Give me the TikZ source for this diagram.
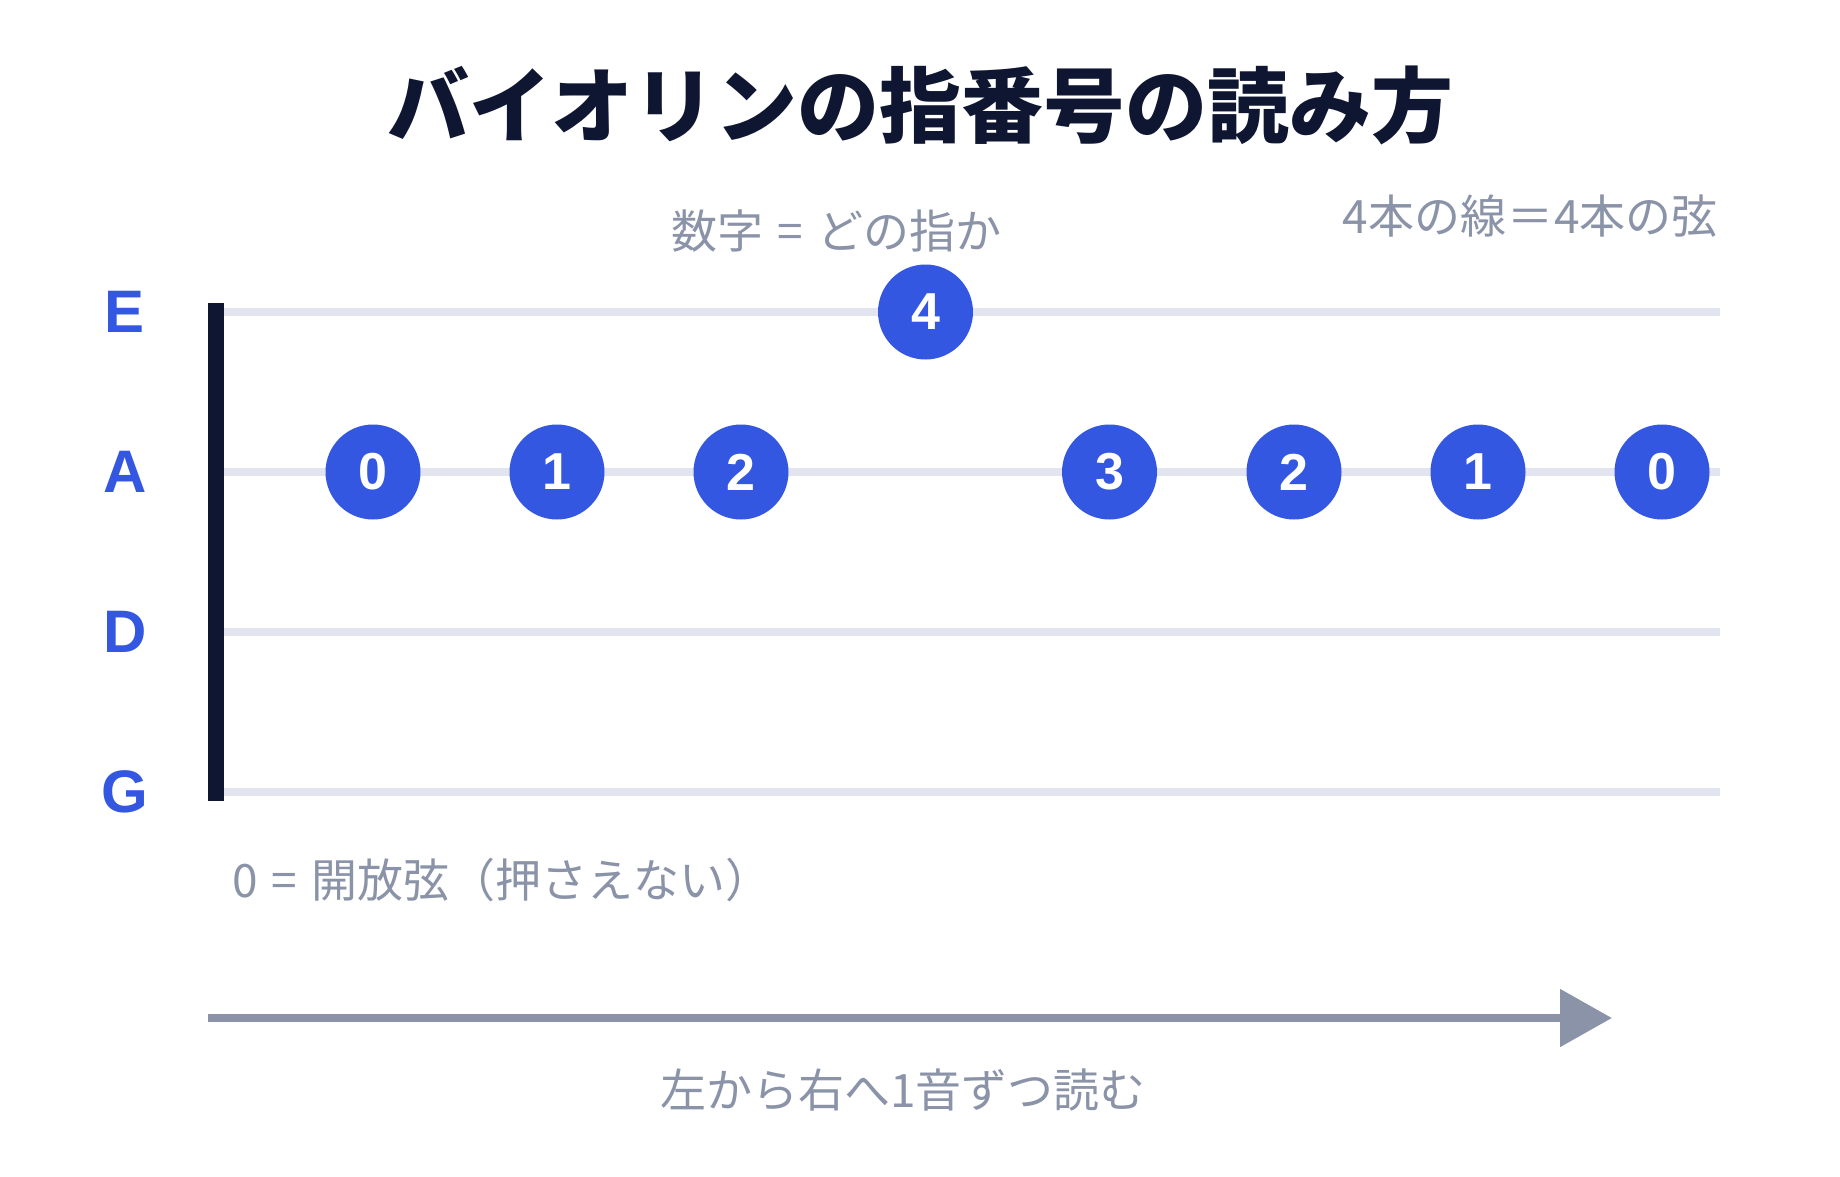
\documentclass[tikz,border=0pt]{standalone}
\usepackage{fontspec}
\setmainfont{Liberation Sans}
\newfontfamily\jp{Noto Sans CJK JP}
\usetikzlibrary{arrows.meta}
\definecolor{navy}{HTML}{0F1631}
\definecolor{fblue}{HTML}{3357E0}
\definecolor{txtgray}{HTML}{8A93A8}
\definecolor{strgray}{HTML}{E2E5EF}
\tikzset{
  titletext/.style={font=\jp\bfseries\fontsize{82}{82}\selectfont, text=navy, inner sep=0pt},
  note/.style={font=\jp\fontsize{46}{46}\selectfont, text=txtgray, inner sep=0pt},
  strlabel/.style={font=\bfseries\fontsize{60}{60}\selectfont, text=fblue, inner sep=0pt},
  finger/.style={circle, fill=fblue, minimum size=95pt, inner sep=0pt, text=white, font=\bfseries\fontsize{52}{52}\selectfont},
  stringline/.style={draw=strgray, line width=8pt},
}
\begin{document}
\begin{tikzpicture}[x=1pt,y=-1pt]
\useasboundingbox[fill=white] (0,0) rectangle (1840,1176);
% title
\node[titletext] (title) at (920,105) {バイオリンの指番号の読み方};
% notes
\node[note, anchor=west] (numnote) at (671,231) {数字\hspace{4pt} = \hspace{4pt}どの指か};
\node[note, anchor=east] (linenote) at (1718,216) {4本の線\hspace{1pt}＝\hspace{1pt}4本の弦};
\node[note, anchor=west] (opennote) at (232,880) {0\hspace{4pt} = \hspace{4pt}開放弦（押さえない）};
\node[note] (readnote) at (903,1090) {左から右へ1音ずつ読む};
% strings
\foreach \n/\y in {E/312,A/472,D/632,G/792}{
  \coordinate (\n l) at (224,\y);
  \coordinate (\n r) at (1720,\y);
  \draw[stringline] (\n l) -- (\n r);
  \node[strlabel] (lab\n) at (125,\y) {\n};
}
% nut bar
\fill[navy] (208,303) rectangle (224,801);
% finger numbers
\node[finger] (f1) at (373,472) {0};
\node[finger] (f2) at (557,472) {1};
\node[finger] (f3) at (741,472) {2};
\node[finger] (f4) at (925.5,312) {4};
\node[finger] (f5) at (1109.5,472) {3};
\node[finger] (f6) at (1294,472) {2};
\node[finger] (f7) at (1478,472) {1};
\node[finger] (f8) at (1662,472) {0};
% reading direction arrow
\coordinate (arrS) at (208,1018);
\coordinate (arrE) at (1612,1018);
\draw[draw=txtgray, fill=txtgray, line width=8.5pt, -{Triangle[length=52pt,width=56pt]}] (arrS) -- (arrE);
\end{tikzpicture}
\end{document}
